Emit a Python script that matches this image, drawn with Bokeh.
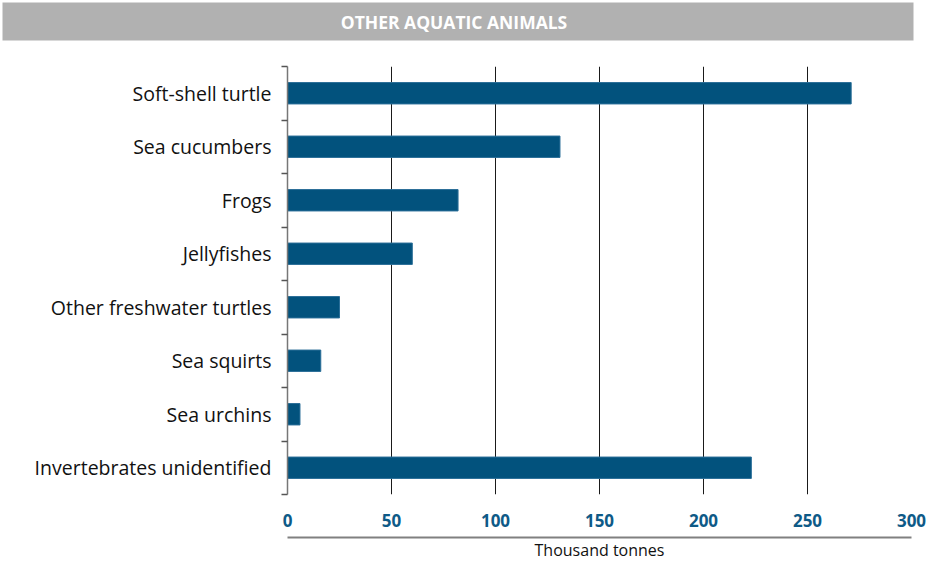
from bokeh.plotting import figure
from bokeh.models import (Range1d, LinearAxis, FixedTicker, Label, ColumnDataSource)
from bokeh.embed import file_html
from bokeh.resources import INLINE

# ---- data ----
title_text = "OTHER AQUATIC ANIMALS"
categories = ["Soft-shell turtle", "Sea cucumbers", "Frogs", "Jellyfishes",
              "Other freshwater turtles", "Sea squirts", "Sea urchins",
              "Invertebrates unidentified"]
values = [271, 131, 82, 60, 25, 16, 6, 223]
x_ticks = [0, 50, 100, 150, 200, 250, 300]
x_label = "Thousand tonnes"

FONT = "Open Sans"
BAR = "#02527D"
TICKBLUE = "#0E5A87"

n = len(categories)
centers = [n - i - 0.5 for i in range(n)]          # top-to-bottom slots
bounds = list(range(n + 1))

# ---- title bar ----
tp = figure(width=916, height=42, x_range=Range1d(0, 1), y_range=Range1d(0, 1),
            output_backend="svg", toolbar_location=None,
            x_axis_location=None, y_axis_location=None,
            min_border_left=2, min_border_right=3, min_border_top=2,
            min_border_bottom=2)
tp.grid.visible = False
tp.outline_line_color = None
tp.background_fill_color = "#B1B1B1"
tp.add_layout(Label(x=0.5, y=0.5, text=title_text, text_align="center",
                    text_baseline="middle", text_color="white", x_offset=-4,
                    text_font=FONT, text_font_style="bold",
                    text_font_size="17.5px"))

# ---- main chart ----
p = figure(width=926, height=530, y_range=Range1d(0, n),
           x_range=Range1d(0, 300), output_backend="svg", toolbar_location=None,
           min_border_left=287, min_border_right=15, min_border_top=24,
           min_border_bottom=78, y_axis_location=None, x_axis_location=None)
p.outline_line_color = None
p.ygrid.visible = False
p.xgrid.ticker = FixedTicker(ticks=x_ticks)
p.xgrid.grid_line_color = "#1a1a1a"
p.xgrid.grid_line_width = 1

src = ColumnDataSource(dict(y=centers, v=values, cat=categories))
p.hbar(y="y", right="v", left=0, height=0.4, source=src,
       fill_color=BAR, line_color="#2A6E98", line_width=1)

# category labels (major) + boundary tick marks (minor)
cat_axis = LinearAxis(ticker=FixedTicker(ticks=centers, minor_ticks=bounds),
                      major_label_overrides={c: lab for c, lab in zip(centers, categories)},
                      axis_line_color="#777777", axis_line_width=1.5,
                      major_tick_line_color=None, major_tick_in=0, major_tick_out=6,
                      minor_tick_line_color="#555555", minor_tick_line_width=1.5,
                      minor_tick_in=0, minor_tick_out=6,
                      major_label_text_font=FONT,
                      major_label_text_font_size="19.5px",
                      major_label_text_color="#111111",
                      major_label_standoff=10)
p.add_layout(cat_axis, "left")

# x tick labels
x_axis = LinearAxis(ticker=FixedTicker(ticks=x_ticks), axis_line_color=None,
                    major_tick_line_color=None, minor_tick_line_color=None,
                    major_tick_in=0, major_tick_out=0,
                    major_label_text_font=FONT, major_label_text_font_style="bold",
                    major_label_text_font_size="17px",
                    major_label_text_color=TICKBLUE, major_label_standoff=19,
                    axis_label=" ", axis_label_text_font_size="4px",
                    axis_label_standoff=0)
p.add_layout(x_axis, "below")

# rule + axis title
rule_axis = LinearAxis(ticker=FixedTicker(ticks=[]), axis_line_color="#808080",
                       axis_line_width=2, major_tick_line_color=None,
                       minor_tick_line_color=None, major_tick_in=0, major_tick_out=0,
                       major_label_standoff=0,
                       axis_label=x_label, axis_label_text_font=FONT,
                       axis_label_text_font_style="normal",
                       axis_label_text_font_size="16px",
                       axis_label_text_color="#111111", axis_label_standoff=1)
p.add_layout(rule_axis, "below")

open("out.html", "w").write(file_html([tp, p], INLINE))
